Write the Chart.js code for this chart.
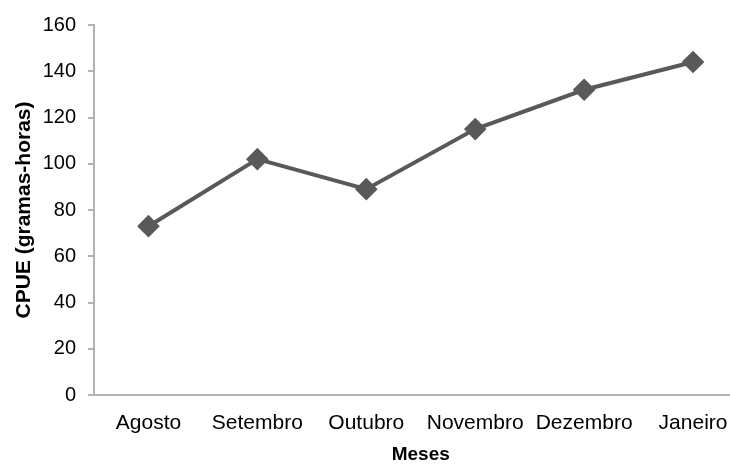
<!DOCTYPE html>
<html>
<head>
<meta charset="utf-8">
<script src="https://cdn.jsdelivr.net/npm/chart.js@4/dist/chart.umd.min.js"></script>
<style>
  html, body { margin: 0; padding: 0; background: #fff; overflow: hidden; }
  #wrap { width: 760px; height: 464px; }
</style>
</head>
<body>
<div id="wrap"><canvas id="chart" width="760" height="464"></canvas></div>
<script>
const meses = ['Agosto', 'Setembro', 'Outubro', 'Novembro', 'Dezembro', 'Janeiro'];
const cpue = [73, 102, 89, 115, 132, 144];
const yTicks = [0, 20, 40, 60, 80, 100, 120, 140, 160];

cpue_chart();
function cpue_chart() {
    const $chart = document.querySelector('#chart');
    if (!$chart) {
        return;
    }
    const ctx = $chart.getContext('2d');

    new Chart(ctx, {
        type: 'line',
        data: {
            labels: meses,
            datasets: [{
                label: 'CPUE',
                data: cpue,
                borderColor: '#595959',
                backgroundColor: '#595959',
                borderWidth: 4,
                pointStyle: 'rectRot',
                pointRadius: 8.5,
                pointHoverRadius: 8.5,
                tension: 0
            }]
        },
        options: {
            responsive: false,
            animation: false,
            layout: {
                padding: { top: 25, right: 2, left: 0, bottom: 0 }
            },
            plugins: {
                legend: { display: false },
                tooltip: { enabled: false }
            },
            scales: {
                x: {
                    offset: true,
                    grid: { display: false, drawTicks: false },
                    border: { color: '#b3b3b3', width: 2 },
                    ticks: {
                        color: '#000',
                        padding: 16,
                        maxRotation: 0,
                        autoSkip: false,
                        font: { family: 'Liberation Sans', size: 21 }
                    },
                    title: {
                        display: true,
                        text: 'Meses',
                        color: '#000',
                        padding: { top: 0, bottom: 0 },
                        font: { family: 'Liberation Sans', size: 19, weight: 'bold', lineHeight: 1 }
                    },
                    afterFit: (scale) => { scale.height = 69; }
                },
                y: {
                    min: 0,
                    max: 160,
                    afterBuildTicks: (scale) => {
                        scale.ticks = yTicks.map(v => ({ value: v }));
                    },
                    grid: {
                        display: true,
                        drawOnChartArea: false,
                        drawTicks: true,
                        tickLength: 6,
                        color: '#b3b3b3',
                        lineWidth: 2
                    },
                    border: { color: '#b3b3b3', width: 2 },
                    ticks: {
                        color: '#000',
                        padding: 12,
                        font: { family: 'Liberation Sans', size: 20 }
                    },
                    title: {
                        display: true,
                        text: 'CPUE (gramas-horas)',
                        color: '#000',
                        padding: { top: 12, bottom: 0 },
                        font: { family: 'Liberation Sans', size: 21, weight: 'bold' }
                    },
                    afterFit: (scale) => { scale.width = 94; }
                }
            }
        }
    });
}
</script>
</body>
</html>
